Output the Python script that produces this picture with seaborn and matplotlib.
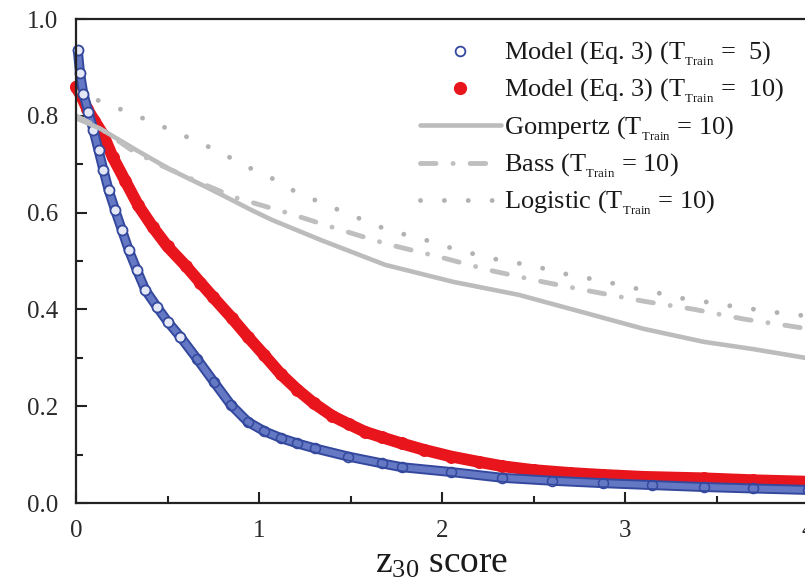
import numpy as np
import pandas as pd
import matplotlib
matplotlib.use("Agg")
import matplotlib.pyplot as plt
from matplotlib.lines import Line2D
from matplotlib.ticker import MultipleLocator, FormatStrFormatter
import seaborn as sns

# ---- data -------------------------------------------------------------
z_model5 = [0.010, 0.022, 0.040, 0.068, 0.095, 0.123, 0.150, 0.178, 0.214, 0.251,
            0.288, 0.333, 0.379, 0.443, 0.500, 0.571, 0.663, 0.754, 0.846, 0.938,
            1.030, 1.121, 1.210, 1.304, 1.487, 1.670, 1.780, 2.050, 2.330, 2.600,
            2.880, 3.150, 3.430, 3.700, 4.000]
p_model5 = [0.935, 0.888, 0.846, 0.808, 0.771, 0.729, 0.688, 0.647, 0.605, 0.564,
            0.523, 0.481, 0.440, 0.405, 0.375, 0.343, 0.297, 0.250, 0.203, 0.168,
            0.148, 0.134, 0.123, 0.113, 0.096, 0.082, 0.074, 0.064, 0.052, 0.046,
            0.041, 0.037, 0.033, 0.030, 0.027]

z_model10 = [0.00, 0.03, 0.06, 0.10, 0.15, 0.20, 0.27, 0.34, 0.42, 0.50, 0.60, 0.68,
             0.75, 0.85, 0.94, 1.03, 1.12, 1.21, 1.30, 1.40, 1.49, 1.58, 1.67, 1.78,
             1.90, 2.05, 2.20, 2.33, 2.50, 2.70, 2.88, 3.10, 3.43, 3.70, 4.00]
p_model10 = [0.860, 0.840, 0.815, 0.790, 0.760, 0.715, 0.665, 0.615, 0.570, 0.530,
             0.490, 0.455, 0.425, 0.383, 0.343, 0.305, 0.266, 0.234, 0.206, 0.180,
             0.163, 0.147, 0.136, 0.123, 0.110, 0.096, 0.085, 0.076, 0.068, 0.062,
             0.058, 0.054, 0.051, 0.047, 0.044]

z_gompertz = [0.00, 0.13, 0.33, 0.52, 0.70, 0.80, 0.96, 1.07, 1.34, 1.69, 2.06,
              2.42, 2.79, 3.10, 3.43, 3.70, 4.00]
p_gompertz = [0.795, 0.774, 0.729, 0.688, 0.655, 0.636, 0.605, 0.585, 0.543, 0.492,
              0.457, 0.430, 0.392, 0.360, 0.333, 0.318, 0.299]

z_bass = [0.00, 0.13, 0.30, 0.45, 0.60, 0.72, 0.88, 1.15, 1.44, 1.70, 1.99, 2.27,
          2.55, 2.82, 3.10, 3.38, 3.65, 3.93, 4.00]
p_bass = [0.800, 0.775, 0.730, 0.700, 0.675, 0.655, 0.630, 0.600, 0.565, 0.535,
          0.508, 0.480, 0.457, 0.437, 0.417, 0.400, 0.380, 0.364, 0.360]

z_logistic = [0.00, 0.14, 0.28, 0.41, 0.54, 0.67, 0.81, 0.94, 1.07, 1.20, 1.33,
              1.47, 1.60, 1.73, 1.86, 1.99, 2.13, 2.26, 2.38, 2.52, 2.65, 2.79,
              2.92, 3.05, 3.18, 3.31, 3.45, 3.58, 3.71, 3.84, 4.00]
p_logistic = [0.850, 0.829, 0.808, 0.788, 0.767, 0.746, 0.720, 0.694, 0.671, 0.643,
              0.622, 0.600, 0.580, 0.560, 0.550, 0.533, 0.519, 0.506, 0.498, 0.488,
              0.475, 0.465, 0.455, 0.444, 0.434, 0.423, 0.415, 0.407, 0.400, 0.393,
              0.386]

x_ticks = [0, 1, 2, 3, 4]
y_ticks = [0.0, 0.2, 0.4, 0.6, 0.8, 1.0]

labels = [r"Model (Eq. 3) (T$_{_{\mathrm{Train}}}$ =  5)",
          r"Model (Eq. 3) (T$_{_{\mathrm{Train}}}$ =  10)",
          r"Gompertz (T$_{_{\mathrm{Train}}}$ = 10)",
          r"Bass (T$_{_{\mathrm{Train}}}$ = 10)",
          r"Logistic (T$_{_{\mathrm{Train}}}$ = 10)"]

# ---- style ------------------------------------------------------------
sns.set_style("ticks")
plt.rcParams["font.family"] = ["Liberation Serif", "DejaVu Serif"]
plt.rcParams["mathtext.fontset"] = "custom"
plt.rcParams["mathtext.rm"] = "Liberation Serif"
plt.rcParams["mathtext.it"] = "Liberation Serif:italic"

BLUE_EDGE = "#34489e"
BLUE_FILL = "#6478c4"
RED = "#e8151d"
GREY_G = "#bcbcbc"
GREY_B = "#bfbfbf"
GREY_L = "#b2b2b2"

fig = plt.figure(figsize=(8.05, 5.79), dpi=100)
ax = fig.add_axes([76 / 805, 76 / 579, 732 / 805, 484 / 579])

m10 = pd.DataFrame({"z": z_model10, "p": p_model10})
m5 = pd.DataFrame({"z": z_model5, "p": p_model5})
gom = pd.DataFrame({"z": z_gompertz, "p": p_gompertz})
bas = pd.DataFrame({"z": z_bass, "p": p_bass})
logi = pd.DataFrame({"z": z_logistic, "p": p_logistic})

# model with T_train = 10: solid red band of filled circles
sns.lineplot(data=m10, x="z", y="p", ax=ax, sort=False, estimator=None,
             color=RED, lw=8.5, solid_capstyle="round", clip_on=False)
sns.lineplot(data=m10, x="z", y="p", ax=ax, sort=False, estimator=None,
             color=RED, lw=0, marker="o", markersize=8.5, mec=RED, mfc=RED,
             clip_on=False)

# model with T_train = 5: band of open blue circles
sns.lineplot(data=m5, x="z", y="p", ax=ax, sort=False, estimator=None,
             color=BLUE_EDGE, lw=7.2, solid_capstyle="round", clip_on=False)
sns.lineplot(data=m5, x="z", y="p", ax=ax, sort=False, estimator=None,
             color=BLUE_FILL, lw=4.4, solid_capstyle="round", clip_on=False)
steep = m5[m5["p"] > 0.3]
flat = m5[m5["p"] <= 0.3]
sns.lineplot(data=steep, x="z", y="p", ax=ax, sort=False, estimator=None,
             color=BLUE_EDGE, lw=0, marker="o", markersize=7.2, mec=BLUE_EDGE,
             mfc="#e4e8f6", mew=1.3, clip_on=False)
sns.lineplot(data=flat, x="z", y="p", ax=ax, sort=False, estimator=None,
             color=BLUE_EDGE, lw=0, marker="o", markersize=7.2, mec=BLUE_EDGE,
             mfc="none", mew=1.1, clip_on=False)

# benchmark diffusion models in grey
sns.lineplot(data=gom, x="z", y="p", ax=ax, sort=False, estimator=None,
             color=GREY_G, lw=3.3, solid_capstyle="round")
sns.lineplot(data=bas, x="z", y="p", ax=ax, sort=False, estimator=None,
             color=GREY_B, lw=3.5, dashes=(3.2, 3.5, 0.01, 3.5),
             dash_capstyle="round")
sns.lineplot(data=logi, x="z", y="p", ax=ax, sort=False, estimator=None,
             color=GREY_L, lw=3.5, dashes=(0.01, 4.9), dash_capstyle="round")

# ---- axes -------------------------------------------------------------
ax.set_xlim(0, 4)
ax.set_ylim(0, 1.0)
ax.set_xticks(x_ticks)
ax.set_yticks(y_ticks)
ax.xaxis.set_minor_locator(MultipleLocator(0.5))
ax.yaxis.set_minor_locator(MultipleLocator(0.1))
ax.yaxis.set_major_formatter(FormatStrFormatter("%.1f"))
ax.tick_params(axis="both", which="major", direction="in", length=8, width=1.5,
               color="#222222", labelsize=18, labelcolor="#2a2a2a")
ax.tick_params(axis="both", which="minor", direction="in", length=5, width=1.5,
               color="#222222")
ax.tick_params(axis="x", which="both", top=False, pad=12)
ax.tick_params(axis="y", which="both", right=False, pad=13)
for side in ["left", "bottom", "top", "right"]:
    ax.spines[side].set_linewidth(1.6)
    ax.spines[side].set_color("#222222")

ax.set_xlabel(r"$\mathrm{z}_{30}$ score", fontsize=27, color="#1a1a1a", labelpad=3)
ax.set_ylabel("")

handles = [
    Line2D([], [], ls="", marker="o", ms=7, mec=BLUE_EDGE, mfc="white", mew=1.3),
    Line2D([], [], ls="", marker="o", ms=8.5, mec=RED, mfc=RED),
    Line2D([], [], color=GREY_G, lw=3.3, solid_capstyle="round"),
    Line2D([], [], color=GREY_B, lw=3.5, dashes=(3.2, 3.5, 0.01, 3.5),
           dash_capstyle="round"),
    Line2D([], [], color=GREY_L, lw=3.5, dashes=(0.01, 4.9), dash_capstyle="round"),
]
leg = ax.legend(handles, labels, loc="upper left", bbox_to_anchor=(0.47, 0.957),
                frameon=False, fontsize=19, handlelength=3.05, handletextpad=0.15,
                labelspacing=0.35, borderpad=0, borderaxespad=0, numpoints=1)
for t in leg.get_texts():
    t.set_color("#1a1a1a")

fig.savefig("out.png", dpi=100)
